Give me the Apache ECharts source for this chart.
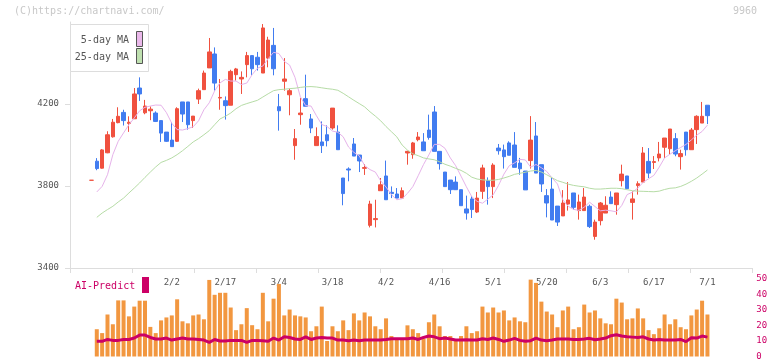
<!DOCTYPE html>
<html>
<head>
<meta charset="utf-8">
<script src="https://cdn.jsdelivr.net/npm/echarts@6/dist/echarts.min.js"></script>
<style>
  html, body { margin: 0; padding: 0; background: #fff; }
  #chart { width: 772px; height: 361px; }
</style>
</head>
<body>
<div id="chart"></div>
<script>
// trading days shown on the chart
var dates = [
  '1/9', '1/13', '1/14', '1/15', '1/16', '1/19', '1/20', '1/21', '1/22', '1/23',
  '1/26', '1/27', '1/28', '1/29', '1/30', '2/2', '2/3', '2/4', '2/5', '2/6',
  '2/9', '2/10', '2/12', '2/13', '2/16', '2/17', '2/18', '2/19', '2/20', '2/24',
  '2/25', '2/26', '2/27', '3/2', '3/3', '3/4', '3/5', '3/6', '3/9', '3/10',
  '3/11', '3/12', '3/13', '3/16', '3/17', '3/18', '3/19', '3/23', '3/24', '3/25',
  '3/26', '3/27', '3/30', '3/31', '4/1', '4/2', '4/3', '4/6', '4/7', '4/8',
  '4/9', '4/10', '4/13', '4/14', '4/15', '4/16', '4/17', '4/20', '4/21', '4/22',
  '4/23', '4/24', '4/27', '4/28', '4/30', '5/1', '5/7', '5/8', '5/11', '5/12',
  '5/13', '5/14', '5/15', '5/18', '5/19', '5/20', '5/21', '5/22', '5/25', '5/26',
  '5/27', '5/28', '5/29', '6/1', '6/2', '6/3', '6/4', '6/5', '6/8', '6/9',
  '6/10', '6/11', '6/12', '6/15', '6/16', '6/17', '6/18', '6/19', '6/22', '6/23',
  '6/24', '6/25', '6/26', '6/29', '6/30', '7/1'
];
var tickLabels = ['2/2', '2/17', '3/4', '3/18', '4/2', '4/16', '5/1', '5/20', '6/3', '6/17', '7/1'];

var opens = [
  3828, 3921, 3887, 3962, 4040, 4109, 4159, 4105, 4128, 4278,
  4157, 4167, 4156, 4119, 4063, 4024, 4018, 4210, 4210, 4119,
  4224, 4270, 4376, 4444, 4229, 4216, 4194, 4343, 4322, 4392,
  4436, 4428, 4351, 4424, 4486, 4187, 4311, 4245, 3997, 4148,
  4226, 4127, 3997, 4015, 4050, 4083, 4063, 3839, 3883, 4005,
  3951, 3886, 3608, 3636, 3777, 3849, 3769, 3761, 3741, 3961,
  3953, 4026, 4015, 4073, 4161, 3969, 3868, 3829, 3819, 3782,
  3688, 3737, 3673, 3774, 3826, 3797, 3985, 3976, 4010, 4000,
  3912, 3873, 3924, 4044, 3904, 3753, 3785, 3702, 3654, 3712,
  3766, 3680, 3680, 3701, 3554, 3631, 3668, 3746, 3709, 3826,
  3849, 3720, 3802, 3819, 3920, 3915, 3937, 3989, 3982, 4031,
  3943, 4063, 3977, 4075, 4107, 4194
];
var closes = [
  3828, 3885, 3976, 4050, 4111, 4140, 4119, 4111, 4249, 4249,
  4190, 4175, 4115, 4058, 4018, 3992, 4177, 4151, 4099, 4141,
  4265, 4351, 4454, 4302, 4232, 4192, 4359, 4371, 4330, 4436,
  4372, 4392, 4571, 4512, 4372, 4167, 4322, 4265, 4031, 4156,
  4189, 4083, 4041, 3997, 4021, 4180, 3977, 3763, 3878, 3946,
  3922, 3890, 3712, 3641, 3806, 3733, 3763, 3741, 3777, 3969,
  4010, 4039, 3972, 4037, 3969, 3909, 3797, 3782, 3782, 3704,
  3668, 3685, 3741, 3888, 3797, 3902, 3972, 3943, 3950, 3891,
  3884, 3781, 4024, 3863, 3810, 3717, 3634, 3624, 3717, 3732,
  3696, 3722, 3746, 3602, 3624, 3717, 3706, 3714, 3766, 3858,
  3787, 3737, 3811, 3961, 3863, 3919, 3956, 4034, 4078, 3956,
  3958, 3977, 4073, 4140, 4140, 4143
];
var lows = [
  3828, 3877, 3885, 3960, 4036, 4106, 4095, 4064, 4128, 4215,
  4150, 4121, 4112, 4015, 4015, 3992, 4015, 4112, 4075, 4083,
  4200, 4270, 4376, 4265, 4172, 4124, 4194, 4314, 4249, 4330,
  4340, 4363, 4351, 4379, 4340, 4070, 4265, 4145, 3928, 4099,
  4189, 4058, 3997, 3961, 3993, 4075, 3977, 3706, 3823, 3946,
  3868, 3854, 3598, 3598, 3777, 3733, 3741, 3741, 3741, 3904,
  3933, 4018, 3972, 4026, 3969, 3880, 3797, 3761, 3782, 3704,
  3636, 3644, 3668, 3737, 3709, 3741, 3953, 3885, 3950, 3891,
  3855, 3781, 3885, 3863, 3771, 3647, 3634, 3605, 3654, 3680,
  3685, 3636, 3680, 3595, 3538, 3608, 3668, 3714, 3660, 3798,
  3787, 3636, 3758, 3819, 3839, 3883, 3920, 3937, 3953, 3945,
  3880, 3948, 3977, 4005, 4107, 4102
];
var highs = [
  3828, 3936, 3980, 4067, 4127, 4184, 4172, 4140, 4278, 4330,
  4220, 4188, 4164, 4119, 4063, 4112, 4184, 4210, 4210, 4141,
  4275, 4363, 4522, 4476, 4322, 4237, 4367, 4376, 4359, 4454,
  4436, 4454, 4590, 4528, 4571, 4249, 4424, 4275, 4078, 4229,
  4343, 4151, 4086, 4115, 4096, 4180, 4096, 3839, 3891, 4034,
  3951, 3907, 3728, 3733, 3839, 3924, 3798, 3790, 3793, 3972,
  4015, 4063, 4058, 4148, 4190, 3969, 3868, 3829, 3847, 3782,
  3753, 3750, 3771, 3904, 3842, 3911, 4005, 4002, 4018, 4063,
  3937, 3873, 4141, 4112, 3904, 3785, 3839, 3702, 3780, 3819,
  3766, 3758, 3790, 3709, 3636, 3722, 3750, 3774, 3766, 3904,
  3849, 3774, 3823, 3990, 3985, 3946, 4015, 4034, 4078, 4058,
  3977, 4063, 4083, 4145, 4210, 4194
];
var ma5 = [
  null, 3771, 3798, 3855, 3953, 4018, 4059, 4099, 4132, 4167,
  4184, 4190, 4195, 4194, 4158, 4106, 4075, 4073, 4080, 4089,
  4118, 4172, 4206, 4264, 4303, 4320, 4312, 4312, 4295, 4302,
  4343, 4375, 4385, 4421, 4452, 4446, 4408, 4390, 4330, 4235,
  4192, 4190, 4143, 4100, 4090, 4068, 4062, 4040, 3990, 3964,
  3947, 3900, 3880, 3868, 3825, 3795, 3758, 3733, 3738, 3764,
  3797, 3850, 3905, 3952, 4003, 4003, 3984, 3937, 3899, 3848,
  3796, 3748, 3725, 3716, 3736, 3757, 3803, 3858, 3899, 3913,
  3930, 3927, 3892, 3905, 3889, 3871, 3839, 3810, 3732, 3701,
  3686, 3681, 3697, 3721, 3700, 3679, 3682, 3679, 3674, 3705,
  3758, 3770, 3790, 3818, 3835, 3852, 3892, 3937, 3955, 3972,
  3988, 4003, 4025, 4048, 4066, 4097
];
var ma25 = [
  null, 3647, 3668, 3685, 3701, 3722, 3741, 3766, 3790, 3815,
  3842, 3868, 3893, 3915, 3925, 3937, 3953, 3972, 3993, 4015,
  4031, 4050, 4070, 4099, 4127, 4140, 4156, 4177, 4193, 4202,
  4210, 4218, 4234, 4250, 4265, 4270, 4272, 4275, 4277, 4281,
  4284, 4285, 4283, 4279, 4275, 4272, 4267, 4252, 4235, 4218,
  4202, 4186, 4162, 4141, 4118, 4090, 4065, 4040, 4000, 3975,
  3957, 3948, 3937, 3932, 3928, 3918, 3906, 3897, 3886, 3876,
  3862, 3843, 3834, 3830, 3828, 3828, 3832, 3839, 3847, 3857,
  3862, 3867, 3873, 3876, 3868, 3855, 3840, 3826, 3818, 3809,
  3803, 3799, 3796, 3789, 3785, 3785, 3787, 3789, 3789, 3787,
  3782, 3777, 3775, 3774, 3773, 3772, 3775, 3783, 3789, 3791,
  3798, 3809, 3823, 3839, 3858, 3878
];
var volumes = [
  null, 17.6, 15.1, 27.1, 20.8, 36.2, 36.2, 25.9, 32.2, 36.0,
  36.0, 19.1, 15.1, 23.3, 25.2, 26.5, 36.9, 22.7, 21.4, 26.5,
  27.1, 24.0, 49.4, 39.8, 41.1, 41.1, 31.6, 17.0, 20.8, 31.2,
  20.2, 17.6, 41.1, 22.7, 37.3, 46.8, 26.5, 30.3, 26.5, 25.9,
  25.2, 16.3, 19.5, 32.2, 10.0, 19.5, 16.3, 23.3, 17.0, 27.8,
  23.3, 28.4, 25.9, 19.5, 17.6, 24.6, 13.2, 11.3, 11.3, 20.1,
  17.6, 15.1, 11.3, 22.1, 27.1, 19.5, 13.2, 13.2, 11.3, 13.2,
  19.5, 15.1, 16.3, 32.2, 28.4, 31.6, 28.4, 29.7, 23.3, 25.2,
  22.7, 22.1, 49.6, 47.5, 35.4, 29.0, 27.1, 18.9, 29.7, 32.2,
  17.6, 18.9, 33.5, 28.4, 29.7, 24.6, 21.4, 20.8, 37.3, 34.8,
  24.0, 24.6, 31.0, 24.6, 17.0, 14.4, 18.2, 27.1, 20.8, 24.0,
  18.9, 17.6, 26.5, 30.3, 36.0, 27.1
];
var aiPredict = [
  null, 9.8, 9.8, 11.0, 10.4, 10.4, 11.0, 11.0, 11.9, 13.8,
  13.8, 12.3, 11.3, 11.3, 11.9, 10.6, 11.3, 11.9, 11.3, 11.3,
  11.0, 10.6, 9.1, 11.0, 10.0, 10.0, 10.4, 10.4, 10.4, 9.1,
  10.4, 10.4, 10.2, 9.8, 11.9, 10.6, 12.7, 12.3, 11.3, 11.0,
  12.7, 11.0, 11.9, 12.3, 11.9, 11.9, 10.6, 10.6, 10.2, 10.6,
  10.2, 10.6, 10.6, 10.6, 10.6, 11.0, 11.5, 11.5, 11.5, 11.5,
  11.9, 11.0, 12.3, 13.2, 12.7, 11.5, 11.9, 11.3, 10.6, 10.6,
  10.8, 10.6, 10.6, 11.5, 11.0, 11.9, 11.0, 9.8, 10.6, 11.7,
  10.4, 9.8, 10.2, 11.9, 10.6, 10.2, 10.6, 11.3, 11.3, 11.3,
  11.0, 11.0, 11.3, 11.7, 10.8, 11.3, 11.9, 13.4, 14.0, 13.2,
  12.7, 12.5, 12.3, 12.7, 11.3, 10.6, 11.0, 10.6, 10.6, 10.6,
  11.0, 9.6, 12.1, 11.9, 13.2, 12.5
];

var UP = '#f0513f';
var DOWN = '#417cf0';
var VOL = '#f29740';
var AI = '#cc0066';
var AXIS = '#dddddd';
var TEXT = '#555555';
var MONO = '"DejaVu Sans Mono", monospace';

// empty slots left and right of the data on the category axis
var LEAD = 4, TAIL = 8;

function pad(list) {
  var out = [];
  for (var k = 0; k < LEAD; k++) out.push('-');
  list.forEach(function (v) { out.push(v == null ? '-' : v); });
  for (var k = 0; k < TAIL; k++) out.push('-');
  return out;
}

function initChart() {
  var chart = echarts.init(document.getElementById('chart'));

  var cats = [];
  for (var k = 0; k < LEAD; k++) cats.push('lead' + k);
  dates.forEach(function (d) { cats.push(d); });
  for (var k = 0; k < TAIL; k++) cats.push('tail' + k);

  var candles = [];
  for (var k = 0; k < LEAD; k++) candles.push(['-', '-', '-', '-']);
  for (var i = 0; i < dates.length; i++) {
    var item = { value: [opens[i], closes[i], lows[i], highs[i]] };
    // a flat candle is drawn in the rising colour
    if (opens[i] === closes[i]) {
      item.itemStyle = { color: UP, color0: UP, borderColor: UP, borderColor0: UP };
    }
    candles.push(item);
  }
  for (var k = 0; k < TAIL; k++) candles.push(['-', '-', '-', '-']);

  var option = {
    animation: false,
    backgroundColor: '#fff',
    grid: [
      // frame with the visible axes
      { left: 70, right: 20, top: 22, height: 246 },
      // price data
      { left: 70, right: 21.7, top: 22, height: 246 },
      // volume
      { left: 70, right: 21.7, top: 279, height: 78.7 }
    ],
    xAxis: [
      {
        gridIndex: 0, type: 'value', min: 0, max: 11, interval: 1,
        axisLine: { lineStyle: { color: AXIS } },
        axisTick: { length: 5, lineStyle: { color: AXIS } },
        axisLabel: { show: false },
        splitLine: { show: false }
      },
      {
        gridIndex: 1, type: 'category', data: cats, boundaryGap: false,
        axisLine: { show: false },
        axisTick: { show: false },
        splitLine: { show: false },
        axisLabel: {
          color: TEXT, fontSize: 9, fontFamily: MONO, margin: 10,
          interval: function (idx, value) { return tickLabels.indexOf(value) >= 0; }
        }
      },
      {
        gridIndex: 2, type: 'category', data: cats, boundaryGap: false, show: false
      }
    ],
    yAxis: [
      {
        gridIndex: 0, type: 'value', min: 3400, max: 4600, interval: 400,
        axisLine: { show: true, lineStyle: { color: AXIS } },
        axisTick: { show: true, length: 5, lineStyle: { color: AXIS } },
        axisLabel: {
          color: TEXT, fontSize: 9, fontFamily: MONO, margin: 11, showMaxLabel: false,
          formatter: function (v) { return String(v); }
        },
        splitLine: { show: false }
      },
      { gridIndex: 1, type: 'value', min: 3400, max: 4600, show: false },
      {
        gridIndex: 2, type: 'value', min: 0, max: 50, interval: 10, position: 'right',
        axisLine: { show: false },
        axisTick: { show: false },
        splitLine: { show: false },
        axisLabel: { color: AI, fontSize: 9, fontFamily: MONO, margin: 6 }
      }
    ],
    series: [
      {
        name: 'price', type: 'candlestick', xAxisIndex: 1, yAxisIndex: 1,
        data: candles, barWidth: 4,
        itemStyle: { color: UP, color0: DOWN, borderColor: UP, borderColor0: DOWN, borderWidth: 1 }
      },
      {
        name: '5-day MA', type: 'line', xAxisIndex: 1, yAxisIndex: 1,
        data: pad(ma5), symbol: 'none', z: 3,
        lineStyle: { color: '#e6b3ea', width: 1 }
      },
      {
        name: '25-day MA', type: 'line', xAxisIndex: 1, yAxisIndex: 1,
        data: pad(ma25), symbol: 'none', z: 3,
        lineStyle: { color: '#b6dca6', width: 1 }
      },
      {
        name: 'volume', type: 'bar', xAxisIndex: 2, yAxisIndex: 2,
        data: pad(volumes), barWidth: 4,
        itemStyle: { color: VOL }
      },
      {
        name: 'AI-Predict', type: 'line', xAxisIndex: 2, yAxisIndex: 2,
        data: pad(aiPredict), symbol: 'none', z: 4,
        lineStyle: { color: AI, width: 3 }
      }
    ],
    graphic: [
      {
        type: 'text', left: 14, top: 6, z: 100,
        style: { text: '(C)https://chartnavi.com/', fill: '#c8c8c8', font: '10px ' + MONO }
      },
      {
        type: 'text', right: 15, top: 6, z: 100,
        style: { text: '9960', fill: '#c8c8c8', font: '10px ' + MONO }
      },
      // moving average legend box
      {
        type: 'rect', z: 100,
        shape: { x: 70.5, y: 24.5, width: 78, height: 47 },
        style: { fill: '#fff', stroke: AXIS, lineWidth: 1 }
      },
      {
        type: 'text', z: 101, x: 129, y: 40,
        style: { text: '5-day MA', fill: TEXT, font: '10px ' + MONO, textAlign: 'right', textVerticalAlign: 'middle' }
      },
      {
        type: 'text', z: 101, x: 129, y: 57,
        style: { text: '25-day MA', fill: TEXT, font: '10px ' + MONO, textAlign: 'right', textVerticalAlign: 'middle' }
      },
      {
        type: 'rect', z: 101,
        shape: { x: 136.5, y: 31.5, width: 6, height: 15 },
        style: { fill: '#eab8ea', stroke: '#555', lineWidth: 1 }
      },
      {
        type: 'rect', z: 101,
        shape: { x: 136.5, y: 48.5, width: 6, height: 15 },
        style: { fill: '#bfe0b0', stroke: '#555', lineWidth: 1 }
      },
      // AI-Predict legend
      {
        type: 'text', z: 101, x: 75, y: 286,
        style: { text: 'AI-Predict', fill: AI, font: '10px ' + MONO, textVerticalAlign: 'middle' }
      },
      {
        type: 'rect', z: 101,
        shape: { x: 142, y: 277, width: 7, height: 16 },
        style: { fill: AI }
      }
    ]
  };

  option && chart.setOption(option);
}

initChart();
</script>
</body>
</html>
